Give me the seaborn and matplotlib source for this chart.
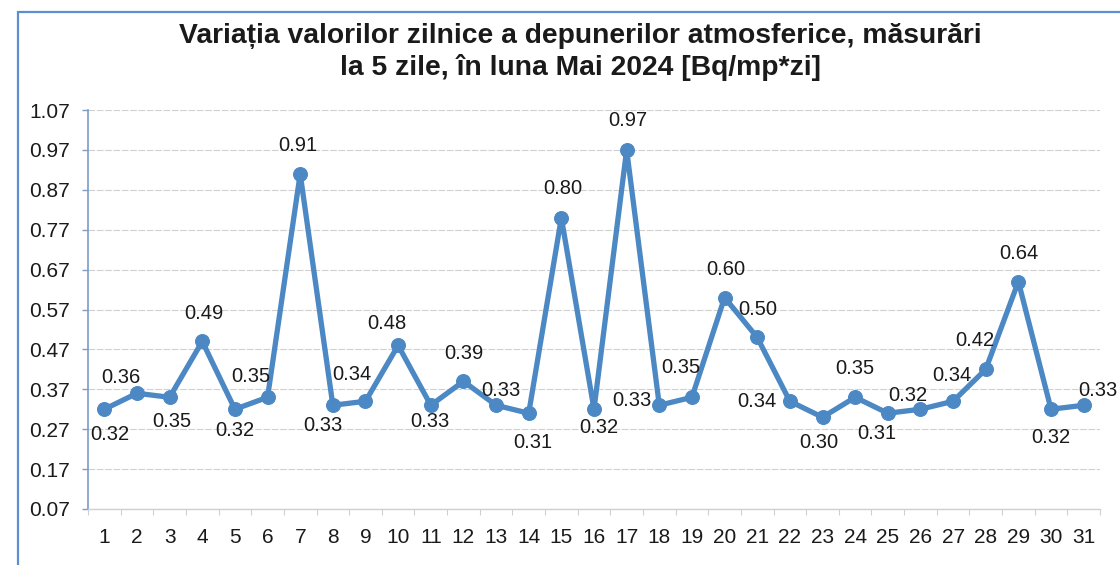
import numpy as np
import pandas as pd
import matplotlib
matplotlib.use("Agg")
import matplotlib.pyplot as plt
from matplotlib.patches import Rectangle
import seaborn as sns

# data
days = list(range(1, 32))
values = [0.32, 0.36, 0.35, 0.49, 0.32, 0.35, 0.91, 0.33, 0.34, 0.48,
          0.33, 0.39, 0.33, 0.31, 0.80, 0.32, 0.97, 0.33, 0.35, 0.60,
          0.50, 0.34, 0.30, 0.35, 0.31, 0.32, 0.34, 0.42, 0.64, 0.32, 0.33]
y_ticks = [0.07, 0.17, 0.27, 0.37, 0.47, 0.57, 0.67, 0.77, 0.87, 0.97, 1.07]
title = ("Variația valorilor zilnice a depunerilor atmosferice, măsurări\n"
         "la 5 zile, în luna Mai 2024 [Bq/mp*zi]")

# label placement (pixels relative to each point)
label_dx = [5, -16, 2, 2, 0, -17, -2, -10, -14, -11, -1, 0, 5, 4, 1, 5, 1,
            -27, -11, 1, 1, -33, -4, 0, -11, -13, -1, -11, 0, 0, 14]
label_dy = [-25, 16, -24, 28, -21, 21, 28, -20, 27, 22, -16, 28, 15, -29, 29,
            -18, 29, 5, 30, 28, 28, 0, -25, 29, -20, 14, 26, 29, 28, -28, 15]

LINE_COLOR = "#4b88c4"

sns.set_theme(style="whitegrid")
plt.rcParams["font.family"] = ["Liberation Sans", "DejaVu Sans"]

df = pd.DataFrame({"zi": days, "valoare": values})

fig = plt.figure(figsize=(11.2, 5.65), dpi=100)
fig.patch.set_facecolor("white")
ax = fig.add_axes([88 / 1120, 1 - 509 / 565, (1100 - 88) / 1120, (509 - 110) / 565])

sns.lineplot(data=df, x="zi", y="valoare", ax=ax, color=LINE_COLOR,
             linewidth=3.8, marker="o", markersize=10,
             markeredgecolor=LINE_COLOR, markerfacecolor=LINE_COLOR)

for d, v, dx, dy in zip(days, values, label_dx, label_dy):
    ax.annotate(f"{v:.2f}", (d, v), xytext=(dx, dy), textcoords="offset pixels",
                ha="center", va="center", fontsize=14.5, color="#1a1a1a",
                annotation_clip=False)

ax.set_xlim(0.5, 31.5)
ax.set_ylim(0.07, 1.07)
ax.set_yticks(y_ticks)
ax.set_yticklabels([f"{t:.2f}" for t in y_ticks])
ax.set_xticks(days)
ax.set_xticks(np.arange(0.5, 32, 1), minor=True)
ax.set_xlabel("")
ax.set_ylabel("")

ax.grid(axis="y", color="#d0d0d0", linewidth=0.8, linestyle=(0, (6, 1.5)))
ax.grid(axis="x", visible=False)
ax.set_facecolor("white")

for s in ["top", "right"]:
    ax.spines[s].set_visible(False)
ax.spines["left"].set_color("#7d9cc8")
ax.spines["left"].set_linewidth(1.2)
ax.spines["bottom"].set_color("#d0d0d0")
ax.spines["bottom"].set_linewidth(1.0)

ax.tick_params(axis="y", which="major", length=4, width=1, color="#7d9cc8",
               left=True, pad=9, labelsize=15, labelcolor="#1a1a1a")
ax.tick_params(axis="x", which="major", length=0, pad=14, labelsize=15,
               labelcolor="#1a1a1a")
ax.tick_params(axis="x", which="minor", length=4, width=0.8, color="#d0d0d0",
               bottom=True)

fig.text(0.518, 1 - 52 / 565, title, ha="center", va="center",
         fontsize=20.3, fontweight="bold", color="#1a1a1a", linespacing=1.2)

# outer chart frame (cut off at right and bottom in the reference)
fig.patches.append(Rectangle((18 / 1120, -0.1), 1.2, 1 - 12 / 565 + 0.1,
                             transform=fig.transFigure, fill=False,
                             edgecolor="#5b8fd0", linewidth=1.6))

fig.savefig("out.png", dpi=100)
